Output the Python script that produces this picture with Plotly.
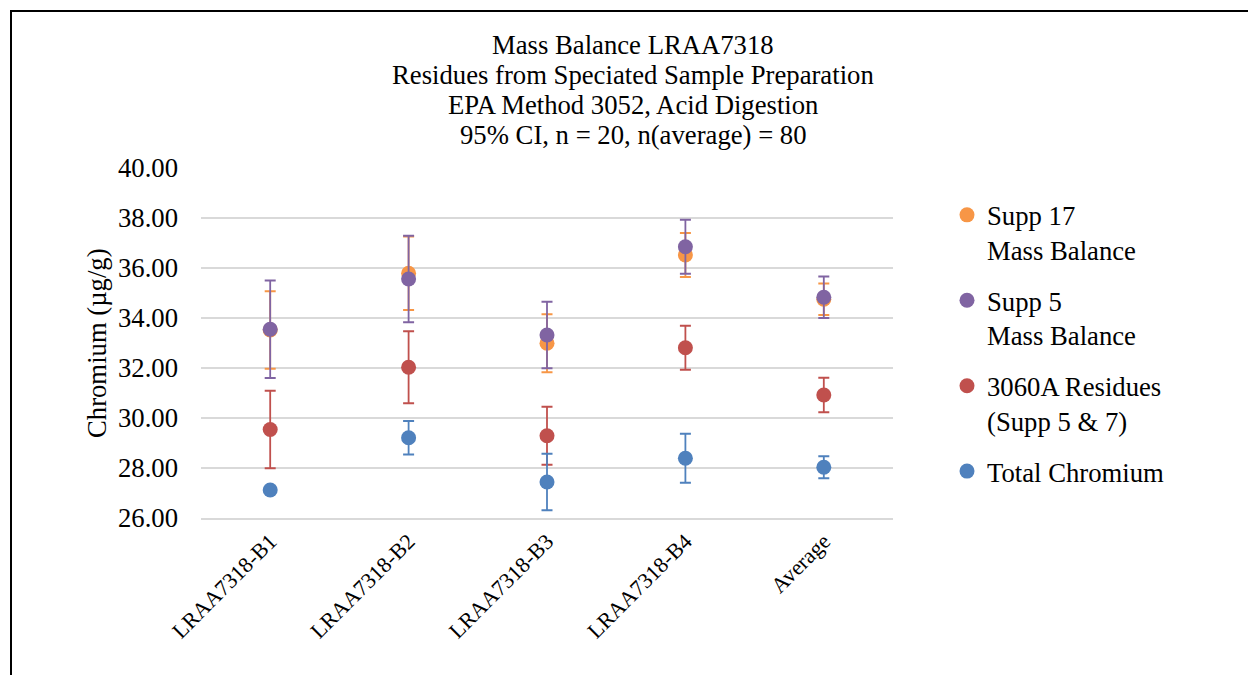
import plotly.graph_objects as go

categories = ["LRAA7318-B1", "LRAA7318-B2", "LRAA7318-B3", "LRAA7318-B4", "Average"]

supp17 = [33.52, 35.79, 32.99, 36.52, 34.75]
supp17_err = [1.55, 1.47, 1.16, 0.88, 0.63]

supp5 = [33.55, 35.56, 33.32, 36.85, 34.83]
supp5_err = [1.95, 1.73, 1.33, 1.08, 0.83]

res3060a = [29.54, 32.03, 29.29, 32.81, 30.92]
res3060a_err = [1.55, 1.44, 1.16, 0.88, 0.69]

total_cr = [27.12, 29.21, 27.44, 28.39, 28.03]
total_cr_err = [0.10, 0.67, 1.13, 0.98, 0.44]

series_names = ["Supp 17<br>Mass Balance", "Supp 5<br>Mass Balance",
                "3060A Residues<br>(Supp 5 & 7)", "Total Chromium"]
colors = ["#F79646", "#8064A2", "#C0504D", "#4F81BD"]

title_lines = ["Mass Balance LRAA7318",
               "Residues from Speciated Sample Preparation",
               "EPA Method 3052, Acid Digestion",
               "95% CI, n = 20, n(average) = 80"]

FONT = "Liberation Serif, Times New Roman, serif"
FS = 26.7

fig = go.Figure()
for i, (vals, errs) in enumerate([(supp17, supp17_err), (supp5, supp5_err),
                                  (res3060a, res3060a_err), (total_cr, total_cr_err)]):
    fig.add_trace(go.Scatter(
        x=categories, y=vals, mode="markers", name=series_names[i],
        legendgroup=f"g{i}",
        marker=dict(color=colors[i], size=15),
        error_y=dict(type="data", array=errs, visible=True, color=colors[i],
                     thickness=1.8, width=5.5),
    ))

L, R, T, B = 201, 355, 168, 157
W, H = 1248, 675
pw, ph = W - L - R, H - T - B

def px_x(p):
    return (p - L) / pw

def px_y(p):
    return (H - B - p) / ph

annotations = []
for k, line in enumerate(title_lines):
    annotations.append(dict(
        text=line, xref="paper", yref="paper",
        x=px_x(633), y=px_y(45 + 30 * k), xanchor="center", yanchor="middle",
        showarrow=False, font=dict(family=FONT, size=FS, color="#000000"),
    ))
annotations.append(dict(
    text="Chromium (µg/g)", xref="paper", yref="paper",
    x=px_x(97), y=px_y(343), xanchor="center", yanchor="middle", textangle=-90,
    showarrow=False, font=dict(family=FONT, size=FS, color="#000000"),
))

fig.update_layout(
    width=W, height=H,
    margin=dict(l=L, r=R, t=T, b=B),
    paper_bgcolor="white", plot_bgcolor="white",
    font=dict(family=FONT, color="#000000", size=FS),
    xaxis=dict(
        type="category", range=[-0.5, 4.5],
        showgrid=False, showline=True, linecolor="#D9D9D9", linewidth=1.5,
        ticks="", tickangle=-45, tickfont=dict(family=FONT, size=22),
        zeroline=False,
    ),
    yaxis=dict(
        range=[26, 40], dtick=2, tickformat=".2f",
        showgrid=True, gridcolor="#D9D9D9", gridwidth=1.5,
        showline=False, zeroline=False, ticks="",
        ticklabelstandoff=22,
        tickfont=dict(family=FONT, size=FS),
    ),
    legend=dict(
        x=px_x(947), xanchor="left", xref="paper",
        y=px_y(191), yanchor="top", yref="paper",
        font=dict(family=FONT, size=FS),
        traceorder="grouped", tracegroupgap=13, valign="top",
        itemwidth=30, bgcolor="rgba(0,0,0,0)",
    ),
    showlegend=True,
    annotations=annotations,
    shapes=[dict(
        type="rect", xref="paper", yref="paper",
        x0=px_x(11), x1=px_x(1260), y0=px_y(690), y1=px_y(11),
        line=dict(color="black", width=2), fillcolor="rgba(0,0,0,0)", layer="above",
    )],
)

fig.write_html("out.html")
